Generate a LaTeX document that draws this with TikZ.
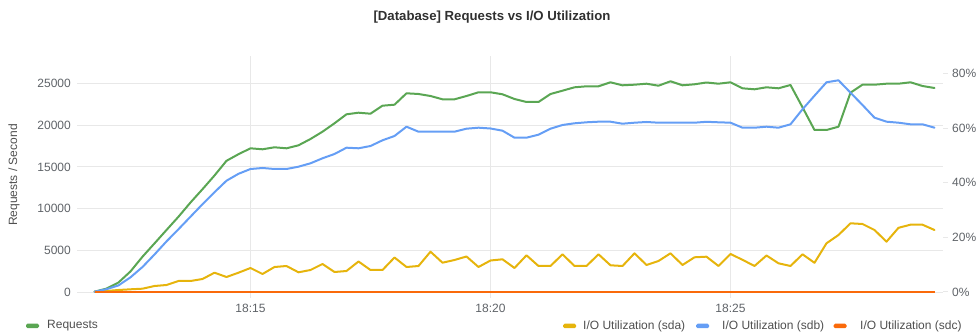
\documentclass[tikz,border=0pt]{standalone}
\usepackage{fontspec}
\setmainfont{Liberation Sans}
\definecolor{cgreen}{HTML}{5AA653}
\definecolor{cblue}{HTML}{659EF5}
\definecolor{cyellow}{HTML}{E6B40C}
\definecolor{corange}{HTML}{FA6A0A}
\definecolor{gridgray}{HTML}{E8E8E8}
\definecolor{labgray}{HTML}{5F6368}
\definecolor{titlegray}{HTML}{303030}
\begin{document}
\begin{tikzpicture}[x=1pt,y=-1pt,
  gridline/.style={draw=gridgray,line width=1pt},
  series/.style={line width=2pt,line join=round,line cap=round},
  ticklab/.style={text=labgray,font=\fontsize{12}{14}\selectfont,inner sep=0pt},
  legtext/.style={text=titlegray!85,font=\fontsize{12}{14}\selectfont,inner sep=0pt,anchor=west},
  legmark/.style={fill=#1,rounded corners=1.5pt,minimum width=13pt,minimum height=4.5pt,inner sep=0pt}]
\useasboundingbox (0,0) rectangle (978,336);
% title
\node[text=titlegray,font=\bfseries\fontsize{13.2}{15}\selectfont,inner sep=0pt] (title) at (492,17) {[Database] Requests vs I/O Utilization};
% vertical grid lines and time labels
\foreach \xx/\lab [count=\k] in {250.5/18:15,490.5/18:20,730.5/18:25}{
  \draw[gridline] (\xx,56) -- (\xx,298);
  \node[ticklab] (t\k) at (\xx,308) {\lab};
}
% horizontal grid lines and left labels
\foreach \lab [count=\k from 0] in {0,5000,10000,15000,20000,25000}{
  \draw[gridline] (77,292.5-41.84*\k) -- (943,292.5-41.84*\k);
  \node[ticklab,anchor=east] (l\k) at (71,292.5-41.84*\k) {\lab};
}
% right axis
\foreach \lab [count=\k from 0] in {0\%,20\%,40\%,60\%,80\%}{
  \draw[gridline] (943,292-54.65*\k) -- (948,292-54.65*\k);
  \node[ticklab,anchor=west] (r\k) at (952,292-54.65*\k) {\lab};
}
% y axis title
\node[text=titlegray!85,font=\fontsize{12}{14}\selectfont,rotate=90,inner sep=0pt] (ytitle) at (14,175) {Requests / Second};
% Requests (green)
\draw[series,cgreen] (94.5,291.7) \foreach \v [count=\i] in {288.6,282.5,271.4,256.7,243.4,230,216.7,202.5,189.2,175.5,160.8,154.2,148.3,149.3,147.3,148.3,145.3,139,131.7,123.3,114.3,112.7,113.7,105.7,104.7,93.3,94,96,99.3,99.3,96,92.3,92.3,94.3,99,102,102,94,90.7,87.3,86.3,86.3,82.3,85.3,84.7,83.7,85.7,81.3,85.3,84.3,82.5,83.7,82.3,88.3,89.3,87.3,88.3,85,107.3,130,130,126.7,92.7,84.7,84.7,83.7,83.7,82.3,86,88} { -- (94.5+12*\i,\v) };
% sda (yellow)
\draw[series,cyellow] (94.5,291.7) \foreach \v [count=\i] in {291,290,289.3,288.7,286,285,281,281,279,272.7,277,272.7,268,274,267,266,272.3,270,264,272,271,261.5,270,270,257.5,267,266,251.7,262.7,260,256.5,267,260.5,259.3,268,255.3,266,266,254.3,266,266,254.3,265.3,266,253.3,265,261,253.3,265,257.3,256.7,266,254,259.8,266,255.5,263.3,266,254.3,262.8,243.3,235,223.3,224,230,241.7,227.8,224.7,224.7,230} { -- (94.5+12*\i,\v) };
% sdb (blue)
\draw[series,cblue] (94.5,291.7) \foreach \v [count=\i] in {289.2,285.4,277.3,267,254.5,241.4,229.2,216.7,204.2,192.2,180.7,173.8,169,168,169,169,166.7,163.3,158.3,154,147.7,148.3,146,140.3,136,126.7,131.7,131.7,131.7,131.7,128.7,127.7,128.5,130.7,137.7,137.7,134.7,128.7,125,123.3,122.3,121.7,121.7,123.7,122.7,122,122.7,122.7,122.7,122.7,121.8,122.3,122.7,127.7,127.7,126.7,127.7,124.3,109.3,95.7,82.3,80.3,92.7,105,117.7,121.7,122.7,124.3,124.3,127.7} { -- (94.5+12*\i,\v) };
% sdc (orange)
\draw[series,corange,line width=2.4pt,line cap=butt] (94.5,292.3) -- (934.5,292.3);
% legend
\node[legmark=cgreen] (m1) at (32.5,326) {};
\node[legtext] (g1) at (47,326) {Requests};
\node[legmark=cyellow] (m2) at (569.5,326) {};
\node[legtext] (g2) at (583,326) {I/O Utilization (sda)};
\node[legmark=cblue] (m3) at (702.5,326) {};
\node[legtext] (g3) at (722,326) {I/O Utilization (sdb)};
\node[legmark=corange] (m4) at (840,326) {};
\node[legtext] (g4) at (860,326) {I/O Utilization (sdc)};
\end{tikzpicture}
\end{document}
